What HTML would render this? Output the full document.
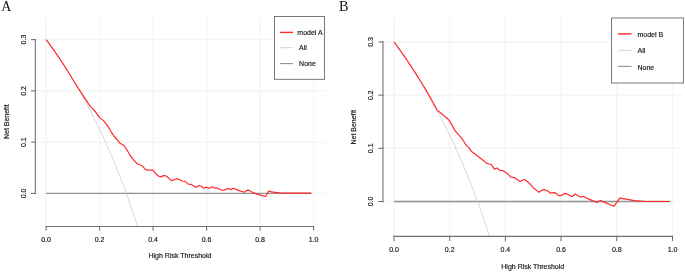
<!DOCTYPE html>
<html><head><meta charset="utf-8"><title>Decision curves</title>
<style>html,body{margin:0;padding:0;background:#fff;overflow:hidden;}svg{display:block;}text{filter:grayscale(1);}</style>
</head><body>
<svg width="685" height="272" viewBox="0 0 685 272">
<rect width="685" height="272" fill="#fff"/>
<g stroke="#f6f5f3" stroke-width="1.5" fill="none"><line x1="46.1" y1="17" x2="46.1" y2="226.5"/><line x1="99.6" y1="17" x2="99.6" y2="226.5"/><line x1="153.1" y1="17" x2="153.1" y2="226.5"/><line x1="206.6" y1="17" x2="206.6" y2="226.5"/><line x1="260.1" y1="17" x2="260.1" y2="226.5"/><line x1="313.6" y1="17" x2="313.6" y2="226.5"/><line x1="35.3" y1="193.4" x2="324.6" y2="193.4"/><line x1="35.3" y1="142.13" x2="324.6" y2="142.13"/><line x1="35.3" y1="90.86" x2="324.6" y2="90.86"/><line x1="35.3" y1="39.59" x2="324.6" y2="39.59"/></g>
<line x1="46.1" y1="193.4" x2="310.93" y2="193.4" stroke="#929292" stroke-width="1.35"/>
<polyline points="46.1,39.59 46.63,40.31 47.17,41.03 47.7,41.76 48.24,42.48 48.77,43.22 49.31,43.95 49.84,44.69 50.38,45.43 50.91,46.17 51.45,46.91 51.98,47.66 52.52,48.42 53.06,49.17 53.59,49.93 54.13,50.69 54.66,51.45 55.2,52.22 55.73,52.99 56.27,53.77 56.8,54.54 57.34,55.32 57.87,56.11 58.41,56.89 58.94,57.69 59.48,58.48 60.01,59.28 60.55,60.08 61.08,60.88 61.62,61.69 62.15,62.5 62.69,63.31 63.22,64.13 63.76,64.95 64.29,65.78 64.83,66.6 65.36,67.43 65.9,68.27 66.43,69.11 66.97,69.95 67.5,70.8 68.04,71.65 68.57,72.5 69.11,73.36 69.64,74.22 70.18,75.08 70.71,75.95 71.25,76.83 71.78,77.7 72.32,78.58 72.85,79.47 73.39,80.35 73.92,81.25 74.46,82.14 74.99,83.04 75.53,83.95 76.06,84.86 76.6,85.77 77.13,86.68 77.67,87.6 78.2,88.53 78.74,89.46 79.27,90.39 79.81,91.33 80.34,92.27 80.88,93.22 81.41,94.17 81.95,95.12 82.48,96.08 83.02,97.05 83.55,98.01 84.09,98.99 84.62,99.96 85.16,100.95 85.69,101.93 86.23,102.92 86.76,103.92 87.3,104.92 87.83,105.93 88.37,106.94 88.9,107.95 89.44,108.97 89.97,109.99 90.51,111.02 91.04,112.06 91.58,113.1 92.11,114.14 92.65,115.19 93.18,116.25 93.72,117.31 94.25,118.37 94.79,119.44 95.32,120.52 95.86,121.6 96.39,122.68 96.93,123.77 97.46,124.87 98,125.97 98.53,127.08 99.07,128.19 99.6,129.31 100.14,130.44 100.67,131.57 101.21,132.7 101.74,133.84 102.28,134.99 102.81,136.14 103.35,137.3 103.88,138.47 104.42,139.64 104.95,140.82 105.49,142 106.02,143.19 106.56,144.38 107.09,145.58 107.63,146.79 108.16,148 108.7,149.22 109.23,150.45 109.77,151.68 110.3,152.92 110.84,154.17 111.37,155.42 111.91,156.68 112.44,157.95 112.98,159.22 113.51,160.5 114.05,161.79 114.58,163.08 115.12,164.38 115.65,165.69 116.19,167 116.72,168.32 117.26,169.65 117.79,170.99 118.33,172.33 118.86,173.68 119.4,175.04 119.93,176.4 120.47,177.78 121,179.16 121.54,180.55 122.07,181.94 122.61,183.35 123.14,184.76 123.68,186.18 124.21,187.61 124.75,189.04 125.28,190.49 125.82,191.94 126.35,193.4 126.89,194.87 127.42,196.35 127.96,197.83 128.49,199.33 129.03,200.83 129.56,202.34 130.1,203.86 130.63,205.39 131.17,206.93 131.7,208.48 132.24,210.04 132.77,211.6 133.31,213.18 133.84,214.76 134.38,216.36 134.91,217.96 135.45,219.57 135.98,221.2 136.52,222.83 137.05,224.47 137.59,226.13 137.71,226.5" fill="none" stroke="#cfcfcf" stroke-width="0.9"/>
<polyline points="46.1,39.59 47.17,41.03 48.24,42.48 49.31,43.95 50.38,45.43 51.45,46.91 52.52,48.42 53.59,49.93 54.66,51.45 55.73,52.99 56.8,54.54 57.87,56.11 58.94,57.69 60.01,59.28 61.08,60.88 62.15,62.5 63.22,64.13 64.29,65.78 65.36,67.43 66.43,69.11 67.5,70.8 68.57,72.5 69.64,74.22 70.71,75.95 71.78,77.7 72.85,79.47 73.92,81.25 74.99,83.04 77.7,87.4 80.4,91.3 83.2,95.9 85.9,99.7 87.9,102.8 89.2,105 90.8,106.8 92.6,108.6 94.7,111 97.1,113.8 99.6,117.6 103.2,120.4 106.1,123.8 108.8,127.7 111.6,132.7 114.3,136.5 117.7,140.4 120,143.3 123.9,145.5 126.6,149.3 129.4,154.3 133.2,159.3 137.1,163.7 142.2,165.8 145.5,169.6 148.2,170.2 152.7,170.2 155.4,173.2 158.7,176.2 160.9,176.9 164.2,175.4 167,176.5 171.4,180.6 173.1,180.2 176.4,178.7 179.7,179.5 182.2,181 185,181.4 188.3,184.1 191,184.3 193.8,186 196,187.4 199.3,185.5 201.5,186.3 203.7,188.2 206.5,187.1 209.2,188.5 212,186.8 214.8,188.2 217.5,188 219.7,189.3 222.5,190.5 225.3,189.6 227.8,188.5 230.5,189.6 233.6,188.2 238.2,190.4 244.3,192.3 247.1,190.1 249.3,190.4 253.7,192.9 260.3,195.1 265.6,196.5 268.6,191.2 271.4,191.8 275,192.3 281,193.1 311.5,193.1" fill="none" stroke="#ff2a2a" stroke-width="1.2" stroke-linejoin="round"/>
<g stroke="#727272" stroke-width="1.1" fill="none" stroke-linecap="square"><line x1="46.1" y1="226.5" x2="313.6" y2="226.5"/><line x1="46.1" y1="226.5" x2="46.1" y2="229.9"/><line x1="99.6" y1="226.5" x2="99.6" y2="229.9"/><line x1="153.1" y1="226.5" x2="153.1" y2="229.9"/><line x1="206.6" y1="226.5" x2="206.6" y2="229.9"/><line x1="260.1" y1="226.5" x2="260.1" y2="229.9"/><line x1="313.6" y1="226.5" x2="313.6" y2="229.9"/><line x1="35.3" y1="193.4" x2="35.3" y2="39.59" /><line x1="31.6" y1="193.4" x2="35.3" y2="193.4"/><line x1="31.6" y1="142.13" x2="35.3" y2="142.13"/><line x1="31.6" y1="90.86" x2="35.3" y2="90.86"/><line x1="31.6" y1="39.59" x2="35.3" y2="39.59"/></g>
<g fill="#1a1a1a" stroke="#1a1a1a" stroke-width="0.18" font-family="Liberation Sans, sans-serif" font-size="7"><text x="46.1" y="241.6" text-anchor="middle">0.0</text><text x="99.6" y="241.6" text-anchor="middle">0.2</text><text x="153.1" y="241.6" text-anchor="middle">0.4</text><text x="206.6" y="241.6" text-anchor="middle">0.6</text><text x="260.1" y="241.6" text-anchor="middle">0.8</text><text x="313.6" y="241.6" text-anchor="middle">1.0</text><text transform="translate(25.5,193.4) rotate(-90)" text-anchor="middle">0.0</text><text transform="translate(25.5,142.13) rotate(-90)" text-anchor="middle">0.1</text><text transform="translate(25.5,90.86) rotate(-90)" text-anchor="middle">0.2</text><text transform="translate(25.5,39.59) rotate(-90)" text-anchor="middle">0.3</text><text x="179.95" y="257.9" text-anchor="middle">High Risk Threshold</text><text transform="translate(9,121.75) rotate(-90)" text-anchor="middle">Net Benefit</text></g>
<rect x="274.5" y="16.5" width="50" height="62.8" fill="#fff" stroke="#6a6a6a" stroke-width="0.9"/>
<line x1="280" y1="32.4" x2="293" y2="32.4" stroke="#ff2a2a" stroke-width="1.4"/>
<text x="297.3" y="34.7" fill="#1a1a1a" stroke="#1a1a1a" stroke-width="0.18" font-family="Liberation Sans, sans-serif" font-size="7">model A</text>
<line x1="280" y1="47.7" x2="293" y2="47.7" stroke="#cfcfcf" stroke-width="0.9"/>
<text x="299.1" y="50.4" fill="#1a1a1a" stroke="#1a1a1a" stroke-width="0.18" font-family="Liberation Sans, sans-serif" font-size="7">All</text>
<line x1="280" y1="63.6" x2="293" y2="63.6" stroke="#929292" stroke-width="1.1"/>
<text x="299.1" y="66.3" fill="#1a1a1a" stroke="#1a1a1a" stroke-width="0.18" font-family="Liberation Sans, sans-serif" font-size="7">None</text>
<text x="1.2" y="10.7" fill="#111" font-family="Liberation Serif, serif" font-size="14">A</text>
<g stroke="#f6f5f3" stroke-width="1.5" fill="none"><line x1="394" y1="18" x2="394" y2="236.5"/><line x1="449.7" y1="18" x2="449.7" y2="236.5"/><line x1="505.4" y1="18" x2="505.4" y2="236.5"/><line x1="561.1" y1="18" x2="561.1" y2="236.5"/><line x1="616.8" y1="18" x2="616.8" y2="236.5"/><line x1="672.5" y1="18" x2="672.5" y2="236.5"/><line x1="382.9" y1="201.5" x2="682.6" y2="201.5"/><line x1="382.9" y1="148.33" x2="682.6" y2="148.33"/><line x1="382.9" y1="95.16" x2="682.6" y2="95.16"/><line x1="382.9" y1="41.99" x2="682.6" y2="41.99"/></g>
<line x1="394" y1="201.5" x2="669.71" y2="201.5" stroke="#929292" stroke-width="1.35"/>
<polyline points="394,41.99 394.56,42.74 395.11,43.48 395.67,44.24 396.23,44.99 396.79,45.75 397.34,46.51 397.9,47.27 398.46,48.04 399.01,48.81 399.57,49.59 400.13,50.36 400.68,51.14 401.24,51.93 401.8,52.71 402.36,53.5 402.91,54.29 403.47,55.09 404.03,55.89 404.58,56.69 405.14,57.5 405.7,58.31 406.25,59.12 406.81,59.94 407.37,60.76 407.93,61.58 408.48,62.41 409.04,63.24 409.6,64.07 410.15,64.91 410.71,65.75 411.27,66.59 411.82,67.44 412.38,68.29 412.94,69.15 413.5,70 414.05,70.87 414.61,71.73 415.17,72.6 415.72,73.48 416.28,74.35 416.84,75.24 417.39,76.12 417.95,77.01 418.51,77.9 419.06,78.8 419.62,79.7 420.18,80.61 420.74,81.51 421.29,82.43 421.85,83.34 422.41,84.27 422.96,85.19 423.52,86.12 424.08,87.05 424.64,87.99 425.19,88.93 425.75,89.88 426.31,90.83 426.86,91.78 427.42,92.74 427.98,93.71 428.53,94.67 429.09,95.65 429.65,96.62 430.21,97.6 430.76,98.59 431.32,99.58 431.88,100.58 432.43,101.57 432.99,102.58 433.55,103.59 434.1,104.6 434.66,105.62 435.22,106.64 435.78,107.67 436.33,108.7 436.89,109.74 437.45,110.78 438,111.83 438.56,112.88 439.12,113.94 439.67,115 440.23,116.07 440.79,117.14 441.35,118.22 441.9,119.3 442.46,120.39 443.02,121.49 443.57,122.59 444.13,123.69 444.69,124.8 445.24,125.92 445.8,127.04 446.36,128.16 446.92,129.29 447.47,130.43 448.03,131.57 448.59,132.72 449.14,133.88 449.7,135.04 450.26,136.2 450.81,137.38 451.37,138.55 451.93,139.74 452.49,140.93 453.04,142.12 453.6,143.32 454.16,144.53 454.71,145.75 455.27,146.97 455.83,148.19 456.38,149.43 456.94,150.67 457.5,151.91 458.06,153.16 458.61,154.42 459.17,155.69 459.73,156.96 460.28,158.24 460.84,159.52 461.4,160.82 461.95,162.11 462.51,163.42 463.07,164.73 463.63,166.05 464.18,167.38 464.74,168.71 465.3,170.06 465.85,171.4 466.41,172.76 466.97,174.12 467.52,175.49 468.08,176.87 468.64,178.26 469.2,179.65 469.75,181.05 470.31,182.46 470.87,183.87 471.42,185.3 471.98,186.73 472.54,188.17 473.09,189.62 473.65,191.07 474.21,192.54 474.77,194.01 475.32,195.49 475.88,196.98 476.44,198.48 476.99,199.99 477.55,201.5 478.11,203.02 478.66,204.56 479.22,206.1 479.78,207.65 480.34,209.21 480.89,210.77 481.45,212.35 482.01,213.94 482.56,215.53 483.12,217.14 483.68,218.75 484.23,220.38 484.79,222.01 485.35,223.65 485.91,225.31 486.46,226.97 487.02,228.64 487.58,230.33 488.13,232.02 488.69,233.72 489.25,235.44 489.59,236.5" fill="none" stroke="#cfcfcf" stroke-width="0.9"/>
<polyline points="394,41.99 395.11,43.48 396.23,44.99 397.34,46.51 398.46,48.04 399.57,49.59 400.68,51.14 401.8,52.71 402.91,54.29 404.03,55.89 405.14,57.5 406.25,59.12 407.37,60.76 408.48,62.41 409.6,64.07 410.71,65.75 411.82,67.44 412.94,69.15 414.05,70.87 415.17,72.6 416.28,74.35 417.39,76.12 418.51,77.9 419.62,79.7 420.74,81.51 421.85,83.34 422.96,85.19 424.08,87.05 425.19,88.93 426.31,90.83 427.42,92.74 428.53,94.67 429.65,96.62 430.76,98.59 431.88,100.58 432.99,102.58 434.1,104.6 435.22,106.64 436.33,108.7 437.45,110.78 438.2,110.9 440.7,113 443.6,115.5 447.6,118.7 450.4,122 451.6,124.4 454.9,130.5 458.2,134.3 461.6,138.2 463.3,140.5 466.1,145.2 468.8,147.4 471.6,151.6 474.3,153.5 478.2,156.5 482.1,159.5 486.5,163.1 488.9,164 491.6,164.7 494.4,169.1 496.9,168 499.9,170.5 502.7,170.5 507.6,173.8 510.9,177.1 514.2,177.6 519.8,181.5 524.7,179.5 529.4,183.2 533.3,187.7 536,189.9 538.8,192.3 541.6,190.4 544.3,189.6 547.6,191 550.6,193.2 553.7,192.6 555.9,193.2 558.7,195.6 561.4,195.4 564.7,193.4 567.5,194.1 571.9,196.7 575.3,194.1 580.5,197.2 583.2,196.3 588.8,199.1 597,202.4 600.4,200.5 604.2,202.1 613.9,206.3 619.7,198.1 626.3,199.2 634.1,200.7 640.7,201.2 645,201.5 670,201.5" fill="none" stroke="#ff2a2a" stroke-width="1.2" stroke-linejoin="round"/>
<g stroke="#727272" stroke-width="1.1" fill="none" stroke-linecap="square"><line x1="394" y1="236.4" x2="672.5" y2="236.4"/><line x1="394" y1="236.4" x2="394" y2="240.6"/><line x1="449.7" y1="236.4" x2="449.7" y2="240.6"/><line x1="505.4" y1="236.4" x2="505.4" y2="240.6"/><line x1="561.1" y1="236.4" x2="561.1" y2="240.6"/><line x1="616.8" y1="236.4" x2="616.8" y2="240.6"/><line x1="672.5" y1="236.4" x2="672.5" y2="240.6"/><line x1="382.9" y1="201.5" x2="382.9" y2="41.99" stroke="#a2a2a2" stroke-width="1.7"/><line x1="378.9" y1="201.5" x2="382.9" y2="201.5"/><line x1="378.9" y1="148.33" x2="382.9" y2="148.33"/><line x1="378.9" y1="95.16" x2="382.9" y2="95.16"/><line x1="378.9" y1="41.99" x2="382.9" y2="41.99"/></g>
<g fill="#1a1a1a" stroke="#1a1a1a" stroke-width="0.18" font-family="Liberation Sans, sans-serif" font-size="7"><text x="394" y="252" text-anchor="middle">0.0</text><text x="449.7" y="252" text-anchor="middle">0.2</text><text x="505.4" y="252" text-anchor="middle">0.4</text><text x="561.1" y="252" text-anchor="middle">0.6</text><text x="616.8" y="252" text-anchor="middle">0.8</text><text x="672.5" y="252" text-anchor="middle">1.0</text><text transform="translate(372.8,201.5) rotate(-90)" text-anchor="middle">0.0</text><text transform="translate(372.8,148.33) rotate(-90)" text-anchor="middle">0.1</text><text transform="translate(372.8,95.16) rotate(-90)" text-anchor="middle">0.2</text><text transform="translate(372.8,41.99) rotate(-90)" text-anchor="middle">0.3</text><text x="532.75" y="269" text-anchor="middle">High Risk Threshold</text><text transform="translate(356,127.25) rotate(-90)" text-anchor="middle">Net Benefit</text></g>
<rect x="611.5" y="18" width="71.9" height="65" fill="#fff" stroke="#6a6a6a" stroke-width="0.9"/>
<line x1="618" y1="33.9" x2="631.5" y2="33.9" stroke="#ff2a2a" stroke-width="1.4"/>
<text x="637.5" y="36.6" fill="#1a1a1a" stroke="#1a1a1a" stroke-width="0.18" font-family="Liberation Sans, sans-serif" font-size="7">model B</text>
<line x1="618" y1="50.3" x2="631.5" y2="50.3" stroke="#cfcfcf" stroke-width="0.9"/>
<text x="637.5" y="52.9" fill="#1a1a1a" stroke="#1a1a1a" stroke-width="0.18" font-family="Liberation Sans, sans-serif" font-size="7">All</text>
<line x1="618" y1="66.4" x2="631.5" y2="66.4" stroke="#929292" stroke-width="1.1"/>
<text x="637.5" y="69.5" fill="#1a1a1a" stroke="#1a1a1a" stroke-width="0.18" font-family="Liberation Sans, sans-serif" font-size="7">None</text>
<text x="339" y="10.9" fill="#111" font-family="Liberation Serif, serif" font-size="14.2">B</text>
</svg>
</body></html>
